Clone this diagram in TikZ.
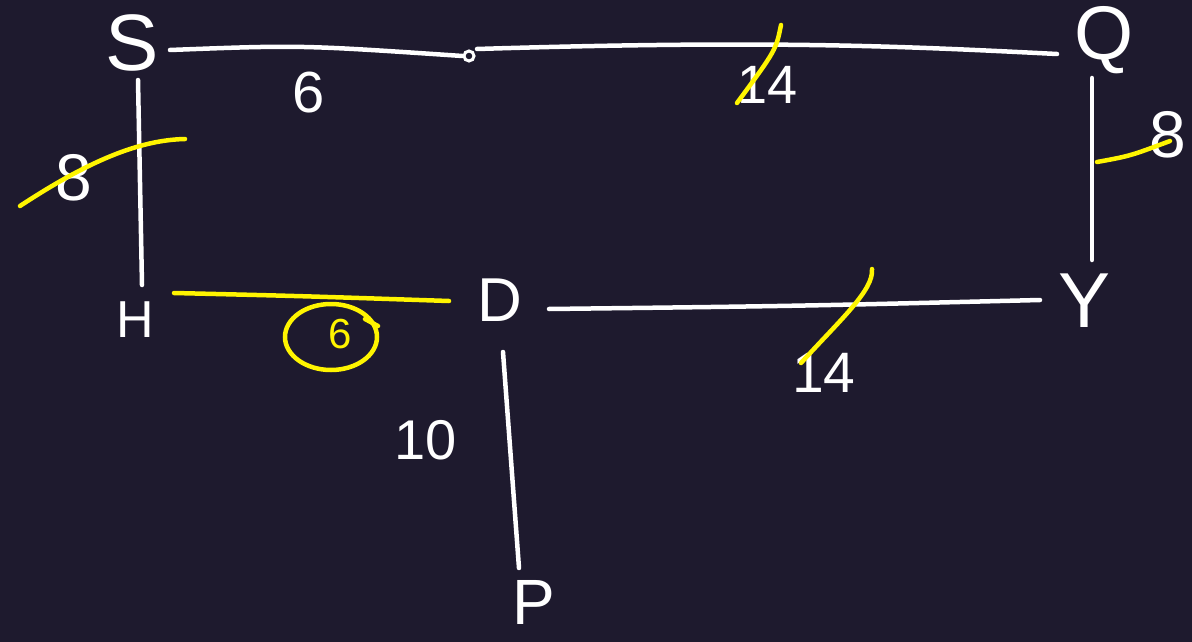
\documentclass[tikz,border=0pt]{standalone}
\usepackage{fontspec}
\setmainfont{Liberation Sans}
\definecolor{bg}{RGB}{30,26,46}
\definecolor{hl}{RGB}{255,245,0}
\begin{document}
\begin{tikzpicture}[x=1pt,y=-1pt,
  wline/.style={draw=white,line width=4.5pt,line cap=round},
  yline/.style={draw=hl,line width=4.5pt,line cap=round},
  vlabel/.style={text=white,inner sep=0pt,anchor=center},
  wnum/.style={text=white,inner sep=0pt,anchor=center},
  ynum/.style={text=hl,inner sep=0pt,anchor=center}]
\fill[bg] (0,0) rectangle (1192,642);
\useasboundingbox (0,0) rectangle (1192,642);
% vertices
\node[vlabel,font=\fontsize{80}{80}\selectfont] (S) at (132,43) {S};
\node[vlabel,font=\fontsize{76}{76}\selectfont] (Q) at (1104,40) {Q};
\node[vlabel,font=\fontsize{52}{52}\selectfont] (H) at (135,320) {H};
\node[vlabel,font=\fontsize{62}{62}\selectfont] (D) at (500,300) {D};
\node[vlabel,font=\fontsize{78}{78}\selectfont] (Y) at (1085,301) {Y};
\node[vlabel,font=\fontsize{64}{64}\selectfont] (P) at (534,602) {P};
\node[circle,draw=white,line width=3pt,minimum size=10pt,inner sep=0pt] (dot) at (469,56) {};
% weights
\node[wnum,font=\fontsize{58}{58}\selectfont] (l6) at (309,93) {6};
\node[wnum,font=\fontsize{54}{54}\selectfont] (l14a) at (768,85) {14};
\node[wnum,font=\fontsize{66}{66}\selectfont] (l8a) at (74,178) {8};
\node[wnum,font=\fontsize{66}{66}\selectfont] (l8b) at (1168,135) {8};
\node[ynum,font=\fontsize{42}{42}\selectfont] (c6) at (340,334) {6};
\node[wnum,font=\fontsize{56}{56}\selectfont] (l10) at (426,440) {10};
\node[wnum,font=\fontsize{57}{57}\selectfont] (l14b) at (824,373) {14};
% edges
\draw[wline] ([shift={(38,7)}]S.center) .. controls (300,45) .. (dot.west);
\draw[wline] ([shift={(8,-7)}]dot.center) .. controls (770,40) and (900,46) .. ([shift={(-47,14)}]Q.center);
\draw[wline] ([shift={(6,37)}]S.center) -- ([shift={(7,-35)}]H.center);
\draw[wline] ([shift={(-12,38)}]Q.center) -- ([shift={(7,-41)}]Y.center);
\draw[yline] ([shift={(39,-27)}]H.center) .. controls (300,296) .. ([shift={(-51,1)}]D.center);
\draw[wline] ([shift={(49,9)}]D.center) .. controls (800,306) .. ([shift={(-45,-1)}]Y.center);
\draw[wline] ([shift={(3,52)}]D.center) -- ([shift={(-15,-34)}]P.center);
% highlight strokes
\draw[yline] ([shift={(13,-60)}]l14a.center) .. controls (776,50) .. ([shift={(-31,18)}]l14a.center);
\draw[yline] ([shift={(-54,28)}]l8a.center) .. controls (90,160) and (140,140) .. ([shift={(111,-39)}]l8a.center);
\draw[yline] ([shift={(-71,27)}]l8b.center) .. controls (1130,156) .. ([shift={(2,6)}]l8b.center);
\draw[yline] ([shift={(48,-104)}]l14b.center) .. controls (874,290) and (840,320) .. ([shift={(-23,-10)}]l14b.center);
\draw[yline] ([shift={(-9,3)}]c6.center) ellipse [x radius=46, y radius=33];
\draw[yline] ([shift={(25,-15)}]c6.center) -- ([shift={(38,-8)}]c6.center);
\end{tikzpicture}
\end{document}
